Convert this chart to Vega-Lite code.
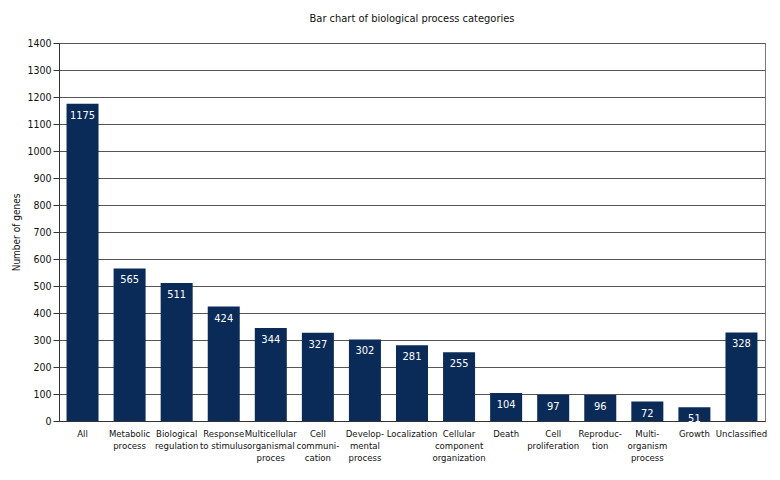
{
  "$schema": "https://vega.github.io/schema/vega-lite/v6.json",
  "autosize": "none",
  "width": 706,
  "height": 378,
  "padding": {"left": 59, "top": 43, "right": 15, "bottom": 59},
  "background": "white",
  "config": {
    "font": "DejaVu Sans Condensed",
    "view": {"stroke": "#777777", "strokeWidth": 1}
  },
  "title": {
    "text": "Bar chart of biological process categories",
    "fontSize": 11,
    "fontWeight": "normal",
    "font": "DejaVu Sans Condensed",
    "color": "#111111",
    "anchor": "middle",
    "offset": 14
  },
  "data": {
    "values": [
      {"category": "All", "genes": 1175, "order": 1},
      {"category": "Metabolic|process", "genes": 565, "order": 2},
      {"category": "Biological|regulation", "genes": 511, "order": 3},
      {"category": "Response|to stimulus", "genes": 424, "order": 4},
      {"category": "Multicellular|organismal|proces", "genes": 344, "order": 5},
      {"category": "Cell|communi-|cation", "genes": 327, "order": 6},
      {"category": "Develop-|mental|process", "genes": 302, "order": 7},
      {"category": "Localization", "genes": 281, "order": 8},
      {"category": "Cellular|component|organization", "genes": 255, "order": 9},
      {"category": "Death", "genes": 104, "order": 10},
      {"category": "Cell|proliferation", "genes": 97, "order": 11},
      {"category": "Reproduc-|tion", "genes": 96, "order": 12},
      {"category": "Multi-|organism|process", "genes": 72, "order": 13},
      {"category": "Growth", "genes": 51, "order": 14},
      {"category": "Unclassified", "genes": 328, "order": 15}
    ]
  },
  "encoding": {
    "x": {
      "field": "category",
      "type": "nominal",
      "sort": {"field": "order"},
      "scale": {"paddingInner": 0.32, "paddingOuter": 0.16},
      "axis": {
        "title": null,
        "labelAngle": 0,
        "labelExpr": "split(datum.label, '|')",
        "labelFontSize": 9.5,
        "labelLineHeight": 12,
        "labelColor": "#111111",
        "labelPadding": 7,
        "ticks": false,
        "domainColor": "#333333",
        "labelLimit": 120
      }
    },
    "y": {
      "field": "genes",
      "type": "quantitative",
      "scale": {"domain": [0, 1400], "nice": false},
      "axis": {
        "title": "Number of genes",
        "titleFontSize": 10,
        "titleFontWeight": "normal",
        "titleColor": "#111111",
        "titlePadding": 5,
        "format": "d",
        "values": [0,100,200,300,400,500,600,700,800,900,1000,1100,1200,1300,1400],
        "labelFontSize": 10.5,
        "labelColor": "#111111",
        "tickColor": "#333333",
        "tickSize": 6,
        "domainColor": "#333333",
        "gridColor": "#555555",
        "gridOpacity": 1,
        "grid": true
      }
    }
  },
  "layer": [
    {"mark": {"type": "bar", "color": "#0a2b57"}},
    {
      "mark": {"type": "text", "color": "white", "baseline": "top", "dy": 6, "fontSize": 11},
      "encoding": {"text": {"field": "genes", "type": "quantitative"}}
    }
  ]
}
